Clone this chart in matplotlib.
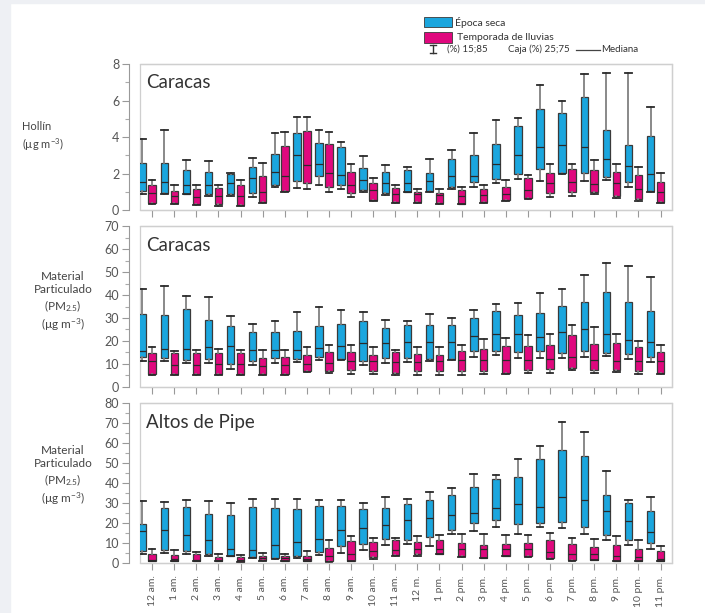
import matplotlib
matplotlib.use("Agg")
import matplotlib.pyplot as plt
from matplotlib.patches import Rectangle
from matplotlib.lines import Line2D
from matplotlib.ticker import MultipleLocator

plt.rcParams['font.family'] = ['Lato', 'DejaVu Sans']
plt.rcParams['mathtext.fontset'] = 'custom'
plt.rcParams['mathtext.rm'] = 'Lato'
plt.rcParams['mathtext.it'] = 'Lato:italic'
plt.rcParams['mathtext.bf'] = 'Lato:bold'

#---- data: (whisker low 15%, Q1 25%, median, Q3 75%, whisker high 85%) per hour ----
hours = ["12 am.", "1 am.", "2 am.", "3 am.", "4 am.", "5 am.", "6 am.", "7 am.",
         "8 am.", "9 am.", "10 am.", "11 am.", "12 m.", "1 pm.", "2 pm.", "3 pm.",
         "4 pm.", "5 pm.", "6 pm.", "7 pm.", "8 pm.", "9 pm.", "10 pm.", "11 pm."]

hollin_seca = [
    (0.88, 1.06, 1.55, 2.56, 3.87), (0.88, 0.91, 1.52, 2.56, 4.38), (0.86, 0.86, 1.37, 2.19, 2.74),
    (0.77, 0.88, 1.37, 2.08, 2.70), (0.77, 0.88, 1.50, 2.00, 2.05), (0.73, 0.91, 1.74, 2.34, 2.83),
    (1.28, 1.37, 2.10, 3.05, 4.24), (1.22, 1.57, 3.00, 4.20, 5.08), (1.37, 1.86, 2.50, 3.65, 4.38),
    (1.13, 1.35, 1.90, 3.43, 3.74), (1.00, 1.10, 1.64, 2.28, 2.96), (0.82, 0.91, 1.46, 2.06, 2.47),
    (1.00, 1.00, 1.46, 2.19, 2.34), (1.00, 1.06, 1.61, 2.05, 2.78), (1.13, 1.28, 1.86, 2.78, 3.29),
    (1.28, 1.55, 1.86, 3.01, 4.24), (1.46, 1.68, 2.52, 3.60, 4.93), (1.68, 1.97, 3.00, 4.60, 5.02),
    (1.61, 2.23, 3.43, 5.52, 6.85), (1.97, 2.01, 3.56, 5.33, 5.99), (1.61, 2.05, 3.43, 6.21, 7.45),
    (1.64, 1.83, 2.78, 4.38, 7.49), (1.28, 1.55, 2.41, 3.56, 7.49), (1.00, 1.06, 1.97, 4.05, 5.63)]
hollin_lluvias = [
    (0.35, 0.40, 0.95, 1.35, 1.64), (0.33, 0.40, 0.79, 1.06, 1.37), (0.27, 0.33, 0.73, 1.13, 1.37),
    (0.22, 0.33, 0.77, 1.19, 1.37), (0.22, 0.27, 0.79, 1.37, 1.64), (0.40, 0.46, 1.00, 1.88, 2.59),
    (1.00, 1.06, 1.86, 3.51, 4.29), (1.13, 1.46, 2.45, 4.33, 5.08), (1.00, 1.24, 2.05, 3.62, 4.29),
    (0.73, 0.91, 1.37, 2.10, 2.52), (0.49, 0.55, 1.10, 1.50, 1.74), (0.40, 0.46, 0.88, 1.19, 1.37),
    (0.40, 0.46, 0.88, 1.00, 1.13), (0.33, 0.37, 0.82, 0.95, 1.13), (0.33, 0.33, 0.77, 1.10, 1.28),
    (0.40, 0.46, 0.82, 1.13, 1.37), (0.51, 0.55, 0.88, 1.28, 1.64), (0.58, 0.64, 1.10, 1.74, 1.92),
    (0.73, 0.91, 1.46, 2.01, 2.52), (0.79, 1.00, 1.55, 2.25, 2.52), (0.88, 1.00, 1.42, 2.19, 2.74),
    (0.64, 0.79, 1.46, 2.10, 2.52), (0.51, 0.58, 1.13, 1.92, 2.34), (0.40, 0.46, 1.00, 1.55, 2.05)]

pm_caracas_seca = [
    (11.4, 12.9, 15.5, 31.7, 42.7), (11.1, 12.6, 16.5, 31.4, 43.7), (10.4, 11.9, 16.5, 34.0, 39.4),
    (10.4, 12.3, 17.4, 29.2, 39.1), (8.0, 10.0, 17.7, 26.6, 30.7), (9.7, 11.4, 16.2, 23.9, 27.5),
    (10.4, 12.6, 15.9, 23.9, 28.5), (10.9, 12.3, 16.2, 24.5, 32.6), (11.9, 12.9, 16.9, 26.6, 34.7),
    (11.6, 12.3, 17.7, 27.4, 33.3), (9.7, 11.4, 19.1, 28.8, 32.4), (10.4, 12.6, 19.1, 25.6, 29.2),
    (10.9, 12.6, 19.5, 27.1, 28.8), (11.1, 12.3, 19.5, 27.1, 31.7), (11.9, 12.3, 19.5, 27.1, 30.2),
    (12.9, 15.8, 22.0, 30.0, 33.6), (13.7, 15.8, 23.2, 33.1, 36.0), (12.6, 15.2, 23.2, 31.4, 36.5),
    (12.6, 15.5, 21.7, 32.1, 40.8), (12.6, 14.8, 23.9, 35.3, 42.7), (12.9, 15.8, 25.2, 36.8, 48.8),
    (13.3, 14.8, 23.2, 41.5, 54.1), (12.3, 14.3, 20.3, 36.9, 52.4), (10.9, 12.9, 19.4, 32.9, 47.8)]
pm_caracas_lluvias = [
    (5.4, 5.6, 11.1, 14.8, 17.2), (5.4, 5.6, 9.7, 14.8, 15.5), (5.4, 5.6, 9.7, 14.8, 16.2),
    (5.1, 5.6, 10.1, 14.8, 16.5), (5.1, 5.6, 10.0, 14.8, 16.2), (5.4, 5.6, 9.0, 12.6, 16.2),
    (5.4, 5.6, 9.4, 12.9, 16.2), (6.4, 6.8, 10.0, 13.7, 17.2), (6.1, 6.8, 10.4, 15.1, 18.1),
    (5.6, 7.5, 11.1, 15.1, 18.1), (5.6, 7.1, 11.1, 14.0, 17.2), (5.1, 6.1, 10.9, 15.2, 16.2),
    (5.1, 6.8, 10.9, 14.3, 17.2), (5.4, 7.1, 11.1, 14.0, 17.2), (5.1, 6.8, 11.6, 15.8, 18.4),
    (5.6, 6.8, 11.6, 16.6, 20.8), (5.6, 6.1, 11.6, 17.9, 21.3), (6.1, 7.5, 11.6, 17.9, 22.4),
    (6.1, 8.0, 12.3, 18.1, 23.0), (7.5, 8.2, 12.9, 22.4, 27.1), (6.1, 7.5, 11.9, 18.7, 25.9),
    (6.5, 7.2, 11.4, 19.1, 23.0), (5.6, 6.8, 11.1, 17.4, 19.8), (5.6, 6.1, 11.4, 15.1, 18.1)]

pm_pipe_seca = [
    (4.7, 5.9, 15.9, 19.7, 31.0), (5.2, 6.7, 16.7, 27.3, 30.6), (4.4, 6.0, 14.2, 27.8, 31.5),
    (3.3, 4.7, 11.4, 24.4, 31.0), (3.3, 3.5, 7.2, 23.9, 29.8), (2.7, 3.0, 6.7, 28.1, 32.0),
    (2.2, 2.7, 8.9, 27.3, 32.0), (2.5, 3.5, 10.5, 26.8, 32.0), (3.8, 5.5, 12.2, 28.5, 31.5),
    (5.2, 8.4, 16.7, 28.5, 31.5), (6.7, 9.7, 17.6, 26.8, 30.1), (8.9, 12.2, 19.2, 27.3, 32.8),
    (9.4, 11.7, 21.4, 29.3, 32.0), (8.5, 13.1, 22.3, 31.5, 35.3), (14.7, 16.7, 23.9, 34.0, 37.3),
    (16.1, 20.1, 24.8, 38.2, 44.5), (18.1, 21.4, 27.3, 42.0, 44.0), (14.7, 19.4, 29.3, 43.2, 51.9),
    (18.1, 20.1, 28.1, 51.9, 58.7), (17.6, 20.6, 33.1, 56.6, 70.3), (14.7, 18.1, 31.5, 53.6, 65.3),
    (11.7, 14.2, 25.9, 34.0, 46.2), (8.9, 11.7, 20.9, 30.1, 31.5), (7.2, 10.0, 15.6, 25.9, 33.1)]
pm_pipe_lluvias = [
    (0.8, 1.0, 1.3, 4.7, 7.2), (0.8, 1.0, 1.8, 4.2, 6.7), (0.8, 1.0, 1.3, 4.7, 5.5),
    (0.8, 0.8, 1.3, 3.0, 4.4), (0.5, 0.5, 1.7, 3.0, 4.2), (1.0, 1.3, 2.5, 3.3, 5.0),
    (0.8, 1.0, 2.5, 3.5, 4.7), (0.8, 1.0, 2.2, 3.5, 6.0), (0.5, 1.0, 3.5, 7.7, 11.4),
    (0.8, 1.0, 4.7, 11.0, 13.6), (2.2, 3.0, 5.9, 10.5, 12.6), (3.3, 3.8, 6.7, 11.4, 12.6),
    (3.3, 4.7, 7.2, 10.5, 13.4), (4.7, 4.7, 7.2, 11.4, 13.9), (3.0, 3.3, 7.2, 10.2, 14.7),
    (2.5, 2.7, 6.9, 8.9, 14.7), (3.3, 3.5, 6.9, 9.4, 14.2), (3.0, 3.5, 7.2, 10.2, 13.9),
    (2.2, 2.7, 5.5, 11.7, 15.1), (1.0, 1.3, 4.7, 9.4, 12.6), (1.3, 1.7, 4.7, 8.0, 11.9),
    (0.8, 1.0, 3.3, 8.9, 13.4), (0.8, 1.0, 3.0, 7.2, 11.7), (0.8, 0.8, 2.2, 6.0, 8.5)]

BLUE = '#1ba6de'
PINK = '#e0087e'
GRAY_TXT = '#555555'
FRAME = '#cfcfcf'


def toStats(rows):
    return [dict(whislo=r[0], q1=r[1], med=r[2], q3=r[3], whishi=r[4], fliers=[]) for r in rows]


def drawPanel(ax, seca, lluvias, ymax, major, minor, title, showLabels):
    n = len(hours)
    pos = list(range(n))
    for rows, color, off in ((seca, BLUE, -0.45), (lluvias, PINK, 0.0)):
        ax.bxp(toStats(rows), positions=[p + off for p in pos], widths=0.34,
               showfliers=False, patch_artist=True, manage_ticks=False,
               boxprops=dict(facecolor=color, edgecolor='#3a3a3a', linewidth=0.9),
               whiskerprops=dict(color='#808080', linewidth=1.3),
               capprops=dict(color='#2a2a2a', linewidth=1.3),
               medianprops=dict(color='#2a2a2a', linewidth=0.9),
               capwidths=0.3)
    ax.set_xlim(-0.55, n - 1 + 0.52)
    ax.set_ylim(0, ymax)
    ax.yaxis.set_major_locator(MultipleLocator(major))
    ax.yaxis.set_minor_locator(MultipleLocator(minor))
    ax.tick_params(axis='y', which='major', length=5, width=0.8, colors='#999999',
                   labelcolor=GRAY_TXT, labelsize=9, pad=2)
    ax.tick_params(axis='y', which='minor', length=3, width=0.8, colors='#aaaaaa')
    ax.set_xticks(pos)
    ax.tick_params(axis='x', length=5, width=0.8, colors='#999999',
                   labelcolor=GRAY_TXT, labelsize=7.5, pad=4)
    if showLabels:
        ax.set_xticklabels(hours, rotation=90, va='top', ha='center')
    else:
        ax.set_xticklabels([])
    ax.spines['left'].set_position(('outward', 8))
    ax.spines['left'].set_color('#999999')
    for s in ('top', 'right', 'bottom'):
        ax.spines[s].set_color(FRAME)
        ax.spines[s].set_linewidth(0.9)
    ax.add_patch(Rectangle((0, 0), 1, 1, transform=ax.transAxes, fill=False,
                           edgecolor=FRAME, linewidth=0.9, clip_on=False))
    ax.text(0.012, 0.93, title, transform=ax.transAxes, fontsize=13.5,
            color='#333333', va='top', ha='left')


fig = plt.figure(figsize=(7.05, 6.13), dpi=100)
fig.patch.set_facecolor('white')
fig.add_artist(Rectangle((0, 0), 10 / 705, 1, transform=fig.transFigure,
                         color='#eef0f4', zorder=-5))
fig.add_artist(Rectangle((0, 1 - 3 / 613), 1, 3 / 613, transform=fig.transFigure,
                         color='#eef0f4', zorder=-5))

ax1 = fig.add_axes([0.1986, 0.6574, 0.7546, 0.2382])
ax2 = fig.add_axes([0.1986, 0.3687, 0.7546, 0.2626])
ax3 = fig.add_axes([0.1986, 0.0816, 0.7546, 0.2610])

drawPanel(ax1, hollin_seca, hollin_lluvias, 8, 2, 1, 'Caracas', False)
drawPanel(ax2, pm_caracas_seca, pm_caracas_lluvias, 70, 10, 5, 'Caracas', False)
drawPanel(ax3, pm_pipe_seca, pm_pipe_lluvias, 80, 10, 5, 'Altos de Pipe', True)

#---- y-axis labels ----
fig.text(22 / 705, 1 - 137 / 613, 'Hollín\n(µg m$^{-3}$)', ha='left', va='center',
         fontsize=8, color='#444444', linespacing=1.3)
pm_label = 'Material\nParticulado\n(PM$_{2.5}$)\n(µg m$^{-3}$)'
fig.text(63 / 705, 1 - 302 / 613, pm_label, ha='center', va='center',
         fontsize=8.5, color='#444444', linespacing=1.25)
fig.text(63 / 705, 1 - 476 / 613, pm_label, ha='center', va='center',
         fontsize=8.5, color='#444444', linespacing=1.25)

#---- legend ----
W, H = 705.0, 613.0
fig.add_artist(Rectangle((424 / W, 1 - 27 / H), 28 / W, 10 / H, transform=fig.transFigure,
                         facecolor=BLUE, edgecolor='#3a3a3a', linewidth=0.6))
fig.add_artist(Rectangle((424 / W, 1 - 43 / H), 28 / W, 11 / H, transform=fig.transFigure,
                         facecolor=PINK, edgecolor='#3a3a3a', linewidth=0.6))
fig.text(455 / W, 1 - 22 / H, 'Época seca', fontsize=7.5, color='#333333', va='center')
fig.text(457 / W, 1 - 37 / H, 'Temporada de lluvias', fontsize=7.5, color='#333333', va='center')
# whisker glyph
fig.add_artist(Line2D([433 / W, 433 / W], [1 - 45 / H, 1 - 53 / H], transform=fig.transFigure,
                      color='#333333', linewidth=1.0))
for yy in (45, 53):
    fig.add_artist(Line2D([430 / W, 436 / W], [1 - yy / H, 1 - yy / H],
                          transform=fig.transFigure, color='#333333', linewidth=1.0))
fig.text(447 / W, 1 - 49 / H, '(%) 15;85', fontsize=7, color='#333333', va='center')
fig.text(508 / W, 1 - 49 / H, 'Caja (%) 25;75', fontsize=7, color='#333333', va='center')
fig.add_artist(Line2D([576 / W, 600 / W], [1 - 50 / H, 1 - 50 / H], transform=fig.transFigure,
                      color='#444444', linewidth=0.9))
fig.text(601 / W, 1 - 49 / H, 'Mediana', fontsize=7, color='#333333', va='center')

fig.savefig('out.png', dpi=100)
